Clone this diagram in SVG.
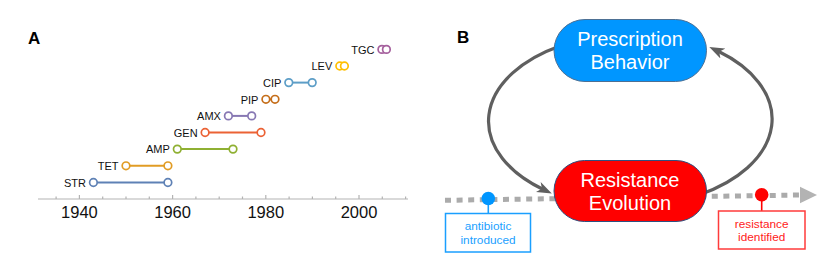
<svg xmlns="http://www.w3.org/2000/svg" width="830" height="280" viewBox="0 0 830 280">
<style>
text{font-family:"Liberation Sans",Arial,sans-serif}
.panel{font-size:17px;font-weight:bold;fill:#000}
.lbl{font-size:11px;fill:#111;text-anchor:end}
.tick{font-size:16.5px;fill:#111;text-anchor:middle}
.ax{stroke:#b3b3b3;stroke-width:1.2;fill:none}
.pt{fill:#fff;stroke-width:1.7}
.seg{stroke-width:2}
.box{font-size:20px;fill:#fff;text-anchor:middle}
.loop{fill:none;stroke:#5f5f5f;stroke-width:3.2}
.note{font-size:11.8px;text-anchor:middle}
</style>
<defs>
<marker id="ah" markerUnits="userSpaceOnUse" markerWidth="16" markerHeight="12" viewBox="0 0 16 12" refX="5" refY="6" orient="auto">
<path d="M0,0.5 L15,6 L0,11.5 L4,6 z" fill="#5f5f5f"/>
</marker>
</defs>
<rect width="830" height="280" fill="#fff"/>
<text class="panel" x="28" y="44">A</text>
<text class="panel" x="457" y="43">B</text>
<g id="axis">
<line class="ax" x1="38" y1="199" x2="408" y2="199"/>
<path class="ax" d="M56.1,199v-2.5M102.7,199v-2.5M126,199v-2.5M149.3,199v-2.5M195.9,199v-2.5M219.2,199v-2.5M242.5,199v-2.5M289.1,199v-2.5M312.4,199v-2.5M335.7,199v-2.5M382.3,199v-2.5M405.6,199v-2.5M79.4,199v-4M172.6,199v-4M265.8,199v-4M359,199v-4"/>
<text class="tick" x="79.4" y="218.3">1940</text>
<text class="tick" x="172.6" y="218.3">1960</text>
<text class="tick" x="265.8" y="218.3">1980</text>
<text class="tick" x="359" y="218.3">2000</text>
</g>
<g id="STR" stroke="#5e81b5">
<line class="seg" x1="93.4" y1="182.5" x2="167.9" y2="182.5"/>
<circle class="pt" cx="93.4" cy="182.5" r="3.8"/><circle class="pt" cx="167.9" cy="182.5" r="3.8"/>
<text class="lbl" x="86" y="186.7" stroke="none">STR</text>
</g>
<g id="TET" stroke="#e19c24">
<line class="seg" x1="126" y1="165.8" x2="167.9" y2="165.8"/>
<circle class="pt" cx="126" cy="165.8" r="3.8"/><circle class="pt" cx="167.9" cy="165.8" r="3.8"/>
<text class="lbl" x="118.5" y="170" stroke="none">TET</text>
</g>
<g id="AMP" stroke="#8fb032">
<line class="seg" x1="177.3" y1="149.1" x2="233" y2="149.1"/>
<circle class="pt" cx="177.3" cy="149.1" r="3.8"/><circle class="pt" cx="233" cy="149.1" r="3.8"/>
<text class="lbl" x="169.8" y="153.3" stroke="none">AMP</text>
</g>
<g id="GEN" stroke="#eb6235">
<line class="seg" x1="205.1" y1="132.5" x2="261" y2="132.5"/>
<circle class="pt" cx="205.1" cy="132.5" r="3.8"/><circle class="pt" cx="261" cy="132.5" r="3.8"/>
<text class="lbl" x="197.6" y="136.7" stroke="none">GEN</text>
</g>
<g id="AMX" stroke="#8778b3">
<line class="seg" x1="228.4" y1="115.9" x2="251.7" y2="115.9"/>
<circle class="pt" cx="228.4" cy="115.9" r="3.8"/><circle class="pt" cx="251.7" cy="115.9" r="3.8"/>
<text class="lbl" x="220.9" y="120.1" stroke="none">AMX</text>
</g>
<g id="PIP" stroke="#c56e1a">
<line class="seg" x1="265.9" y1="99.3" x2="275" y2="99.3"/>
<circle class="pt" cx="265.9" cy="99.3" r="3.8"/><circle class="pt" cx="275" cy="99.3" r="3.8"/>
<text class="lbl" x="258.4" y="103.5" stroke="none">PIP</text>
</g>
<g id="CIP" stroke="#5d9ec7">
<line class="seg" x1="288.8" y1="82.6" x2="312.2" y2="82.6"/>
<circle class="pt" cx="288.8" cy="82.6" r="3.8"/><circle class="pt" cx="312.2" cy="82.6" r="3.8"/>
<text class="lbl" x="281.3" y="86.8" stroke="none">CIP</text>
</g>
<g id="LEV" stroke="#ffbf00">
<line class="seg" x1="339.8" y1="66" x2="344.4" y2="66"/>
<circle class="pt" cx="339.8" cy="66" r="3.8"/><circle class="pt" cx="344.4" cy="66" r="3.8"/>
<text class="lbl" x="332.3" y="70.2" stroke="none">LEV</text>
</g>
<g id="TGC" stroke="#a5609d">
<line class="seg" x1="381.9" y1="49.4" x2="386.4" y2="49.4"/>
<circle class="pt" cx="381.9" cy="49.4" r="3.8"/><circle class="pt" cx="386.4" cy="49.4" r="3.8"/>
<text class="lbl" x="374.4" y="53.6" stroke="none">TGC</text>
</g>
<g id="connectors">
<line x1="445" y1="200.3" x2="801" y2="195" stroke="#ababab" stroke-width="5" stroke-dasharray="6 5.6"/>
<polygon points="800,186.7 817,195 800,203.3" fill="#b3b3b3"/>
<path class="loop" d="M560,46 A144 87 0 0 0 542.8 189.2" marker-end="url(#ah)"/>
<path class="loop" d="M700,194.5 A144 87 0 0 0 718.3 51.3" marker-end="url(#ah)"/>
</g>
<g id="prescription">
<rect x="554" y="19.5" width="152.5" height="62" rx="31" fill="#0096ff" stroke="#4d7094" stroke-width="1"/>
<text class="box" x="630" y="46">Prescription</text>
<text class="box" x="630" y="69">Behavior</text>
</g>
<g id="resistance">
<rect x="554" y="160.5" width="152.5" height="61" rx="30.5" fill="#ff0000" stroke="#2f4f7f" stroke-width="1"/>
<text class="box" x="630" y="186.7">Resistance</text>
<text class="box" x="630" y="210">Evolution</text>
</g>
<g id="antibiotic">
<line x1="488.3" y1="200" x2="488.3" y2="214" stroke="#1a9fff" stroke-width="1.6"/>
<circle cx="488.3" cy="198.5" r="6.8" fill="#0096ff"/>
<rect x="445.5" y="213.5" width="85" height="38.5" fill="#fff" stroke="#1a9fff" stroke-width="1.5"/>
<text class="note" x="488" y="230.3" fill="#1a9fff">antibiotic</text>
<text class="note" x="488" y="244.3" fill="#1a9fff">introduced</text>
</g>
<g id="identified">
<line x1="761.7" y1="196" x2="761.7" y2="211" stroke="#ff0000" stroke-width="1.6"/>
<circle cx="761.7" cy="194.8" r="6.8" fill="#ff0000"/>
<rect x="718.5" y="211" width="86.5" height="38" fill="#fff" stroke="#ff3b3b" stroke-width="1.5"/>
<text class="note" x="761.7" y="228.3" fill="#ff1a1a">resistance</text>
<text class="note" x="761.7" y="241" fill="#ff1a1a">identified</text>
</g>
</svg>
